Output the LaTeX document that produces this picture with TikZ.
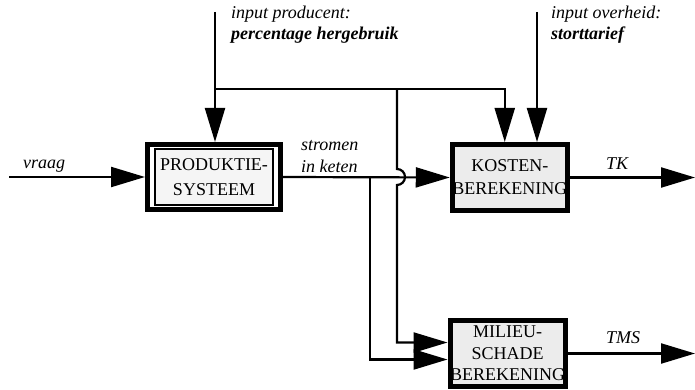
\documentclass[tikz,border=0pt]{standalone}
\usepackage{fontspec}
\setmainfont{Liberation Serif}
\usetikzlibrary{arrows.meta}
\begin{document}
\begin{tikzpicture}[x=1pt,y=-1pt,line width=2.2pt,line join=miter,
  arr/.style={-{Triangle[length=34pt,width=20pt]}},
  blok/.style={draw,line width=5pt,fill=gray!15,inner sep=0pt,align=center,
    minimum width=114.5pt,minimum height=66pt,font=\fontsize{18}{23}\selectfont},
  lbl/.style={inner sep=0pt,align=left,anchor=base west,
    font=\fontsize{18}{21}\selectfont\itshape}]
  \useasboundingbox (0,0) rectangle (695,390);
  \node[blok,fill=white,minimum width=133pt,minimum height=65pt] (prod) at (214,177) {};
  \node[blok,line width=2pt,fill=gray!8,minimum width=118pt,minimum height=56pt,
    font=\fontsize{18}{25}\selectfont] (prodtxt) at (prod.center) {PRODUKTIE-\\SYSTEEM};
  \node[blok] (kost) at (509.75,177.5) {KOSTEN-\\BEREKENING};
  \node[blok,font=\fontsize{18}{21.5}\selectfont] (mil) at (507.5,353.5) {MILIEU-\\SCHADE\\BEREKENING};
  \coordinate (vraagin) at (9,177);
  \coordinate (inprod) at (215,12);
  \coordinate (splitp) at (215,89);
  \coordinate (splitm) at (397,89);
  \coordinate (inoverh) at (537,12);
  \coordinate (splitk) at (370,177);
  \coordinate (tkuit) at (695,177);
  \draw[arr] (vraagin) -- (prod.west);
  \draw[arr] (prod.east) -- (kost.west);
  \draw[arr] (inprod) -- (inprod |- prod.north);
  \draw[arr] (splitp) -| ([xshift=-5pt]kost.north);
  \draw[arr] (inoverh) -- (inoverh |- kost.north);
  \draw[arr] (splitm) -- ([yshift=8pt]splitm |- prod.east)
    arc[start angle=-90,end angle=90,radius=8] |- ([yshift=11pt]mil.west);
  \draw[arr] (splitk) |- ([yshift=-6pt]mil.west);
  \draw[arr] (kost.east) -- (kost.east -| tkuit);
  \draw[arr] (mil.east) -- (mil.east -| tkuit);
  \node[lbl] (lvraag) at (22,168) {vraag};
  \node[lbl] (lstroom) at (300,172) {stromen\\in keten};
  \node[lbl] (ltk) at (605,170) {TK};
  \node[lbl] (ltms) at (605,343) {TMS};
  \node[lbl] (linprod) at (230,40) {input producent:\\\textbf{percentage hergebruik}};
  \node[lbl] (linoverh) at (550,40) {input overheid:\\\textbf{storttarief}};
\end{tikzpicture}
\end{document}
